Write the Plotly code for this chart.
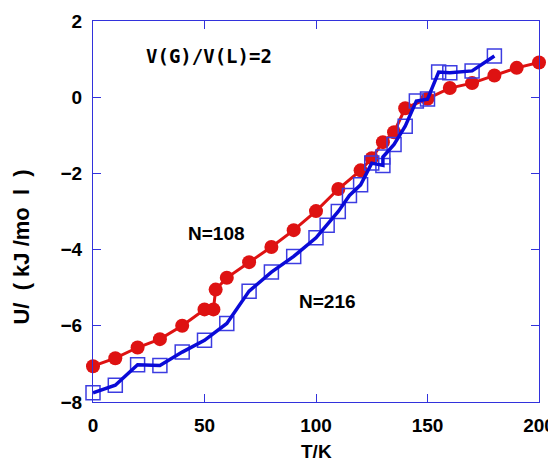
import plotly.graph_objects as go

# N=108 series (red filled circles)
t_108 = [0, 10, 20, 30, 40, 50, 54, 55, 60, 70, 80, 90, 100, 110, 120, 125,
         130, 135, 140, 150, 160, 170, 180, 190, 200]
u_108 = [-7.06, -6.85, -6.57, -6.35, -6.00, -5.57, -5.57, -5.05, -4.74, -4.33,
         -3.93, -3.49, -2.99, -2.41, -1.92, -1.60, -1.18, -0.92, -0.29, -0.04,
         0.24, 0.37, 0.57, 0.77, 0.91]

# N=216 series (blue open squares)
t_216 = [0, 10, 20, 30, 40, 50, 60, 70, 80, 90, 100, 105, 110, 115, 120, 125,
         130, 130, 135, 140, 145, 150, 155, 160, 170, 180]
u_216 = [-7.76, -7.56, -7.02, -7.04, -6.69, -6.38, -5.94, -5.09, -4.59, -4.18,
         -3.69, -3.36, -3.00, -2.58, -2.30, -1.73, -1.79, -1.57, -1.24, -0.76,
         -0.10, -0.05, 0.66, 0.64, 0.69, 1.08]

x_ticks = [0, 50, 100, 150, 200]
y_ticks = [-8, -6, -4, -2, 0, 2]

RED = "rgb(222,18,18)"
BLUE = "rgb(10,10,215)"
SQ = "rgb(60,60,225)"
FRAME = "rgb(50,50,220)"

fig = go.Figure()
fig.add_trace(go.Scatter(
    x=t_108, y=u_108, mode="lines+markers",
    line=dict(color=RED, width=3),
    marker=dict(symbol="circle", size=14, color=RED),
    cliponaxis=False, showlegend=False))
fig.add_trace(go.Scatter(
    x=t_216, y=u_216, mode="markers",
    marker=dict(symbol="square-open", size=14, color=SQ, line=dict(width=1.5, color=SQ)),
    cliponaxis=False, showlegend=False))
fig.add_trace(go.Scatter(
    x=t_216, y=u_216, mode="lines",
    line=dict(color=BLUE, width=3.5),
    cliponaxis=False, showlegend=False))

axis_common = dict(
    showline=True, linecolor=FRAME, linewidth=1.2, mirror="ticks",
    ticks="inside", ticklen=8, tickcolor=FRAME, tickwidth=1.2,
    showgrid=False, zeroline=False, automargin=False,
    tickfont=dict(family="Liberation Sans", size=19, color="black", weight="bold"),
)
fig.update_xaxes(range=[0, 200], tickvals=x_ticks, ticklabelstandoff=6, **axis_common)
fig.update_yaxes(range=[-8, 2], tickvals=y_ticks, ticklabelstandoff=6, **axis_common)

bold = dict(family="Liberation Sans", size=19, color="black", weight="bold")
mono = dict(family="DejaVu Sans Mono", size=19, color="black", weight="bold")

NB = "\u00a0"
y_title = "U/" + NB + NB + "(" + NB + "kJ" + NB + "/mo" + NB + NB + "l" + NB + NB + ")"

fig.add_annotation(x=52, y=1.07, xref="x", yref="y", text="V(G)/V(L)=2",
                   showarrow=False, font=mono)
fig.add_annotation(x=55.5, y=-3.58, xref="x", yref="y", text="N=108",
                   showarrow=False, font=bold)
fig.add_annotation(x=105, y=-5.37, xref="x", yref="y", text="N=216",
                   showarrow=False, font=bold)
fig.add_annotation(x=0.5, y=-0.0975, xref="paper", yref="paper", text="T/K",
                   showarrow=False, xanchor="center", yanchor="top", font=bold)
fig.add_annotation(x=-0.16, y=0.407, xref="paper", yref="paper", text=y_title,
                   showarrow=False, textangle=-90, xanchor="center", yanchor="middle",
                   font=dict(family="Liberation Sans", size=22, color="black", weight="bold"))

fig.update_layout(
    width=548, height=455,
    margin=dict(l=85, r=17, t=13, b=61),
    paper_bgcolor="white", plot_bgcolor="white",
)
fig.write_html("out.html")
